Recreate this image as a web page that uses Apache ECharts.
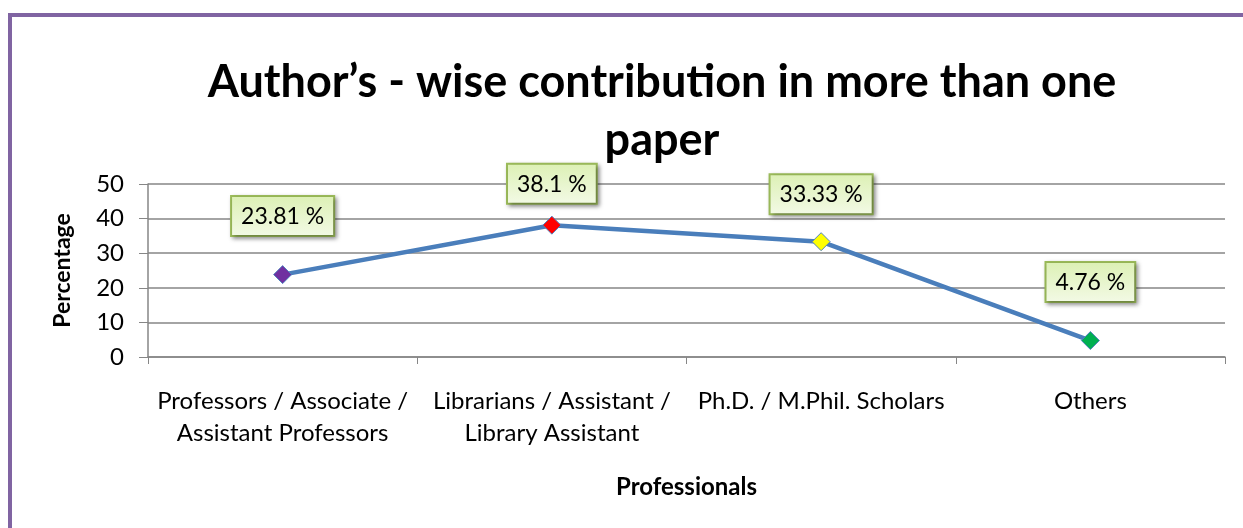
<!DOCTYPE html>
<html>
<head>
<meta charset="utf-8">
<script src="https://cdn.jsdelivr.net/npm/echarts@6/dist/echarts.min.js"></script>
<style>
  html, body { margin: 0; padding: 0; background: #fff; }
  #frame { position: absolute; left: 8px; top: 13px; width: 1235px; height: 515px;
           border-top: 4px solid #8064A2; border-left: 4px solid #8064A2; }
  #container { position: absolute; left: 0; top: 0; width: 1243px; height: 528px; }
</style>
</head>
<body>
<div id="frame"></div>
<div id="container"></div>
<script>
var categories = ['Professors / Associate /\nAssistant Professors', 'Librarians / Assistant /\nLibrary Assistant', 'Ph.D. / M.Phil. Scholars', 'Others'];
var values = [23.81, 38.1, 33.33, 4.76];
var markerColors = ['#7030A0', '#FF0000', '#FFFF00', '#00B050'];
var labelGaps = [30, 13, 19, 30];
var yTicks = [0, 10, 20, 30, 40, 50];

var font = 'Lato, "Open Sans", sans-serif';

var dom = document.getElementById('container');
var myChart = echarts.init(dom);

var pts = values.map(function (v, i) {
    return {
        value: v,
        itemStyle: { color: markerColors[i], borderColor: '#4F81BD', borderWidth: 1 },
        label: { distance: labelGaps[i] }
    };
});

var option = {
    animation: false,
    title: {
        text: 'Author\u2019s - wise contribution in more than one\npaper',
        left: 657,
        textAlign: 'center',
        top: 48,
        textStyle: { fontFamily: font, fontSize: 45, fontWeight: 'bold', color: '#000', lineHeight: 58 }
    },
    grid: { left: 148, right: 18, top: 184, bottom: 171, containLabel: false },
    xAxis: {
        type: 'category',
        data: categories,
        boundaryGap: true,
        name: 'Professionals',
        nameLocation: 'middle',
        nameGap: 118,
        nameTextStyle: { fontFamily: font, fontSize: 24, fontWeight: 'bold', color: '#000' },
        axisLine: { lineStyle: { color: '#868686', width: 1.5 } },
        axisTick: { show: true, interval: 0, length: 7, lineStyle: { color: '#868686' } },
        axisLabel: { interval: 0, fontFamily: font, fontSize: 24, color: '#000', margin: 28, lineHeight: 32 }
    },
    yAxis: {
        type: 'value',
        min: 0, max: 50, interval: 10,
        name: 'Percentage',
        nameLocation: 'middle',
        nameGap: 74,
        nameTextStyle: { fontFamily: font, fontSize: 23, fontWeight: 'bold', color: '#000' },
        axisLine: { show: true, lineStyle: { color: '#868686', width: 1.5 } },
        axisTick: { show: true, length: 9, lineStyle: { color: '#868686' } },
        axisLabel: { fontFamily: font, fontSize: 24, color: '#000', margin: 24,
            formatter: function (v) { return yTicks.indexOf(v) >= 0 ? String(v) : ''; } },
        splitLine: { lineStyle: { color: '#868686', width: 1.5 } }
    },
    series: [{
        type: 'line',
        data: pts,
        symbol: 'diamond',
        symbolSize: 18,
        lineStyle: { color: '#4A7EBB', width: 4.5 },
        label: {
            show: true,
            position: 'top',
            formatter: function (p) { return p.value + ' %'; },
            fontFamily: font,
            fontSize: 23,
            color: '#000',
            padding: [8, 9, 7, 9],
            borderColor: '#9BBB59',
            borderWidth: 2,
            backgroundColor: new echarts.graphic.LinearGradient(0, 0, 0, 1, [
                { offset: 0, color: '#DCF0B4' },
                { offset: 1, color: '#F3FAE6' }
            ]),
            shadowColor: 'rgba(0,0,0,0.35)',
            shadowBlur: 4,
            shadowOffsetX: 2,
            shadowOffsetY: 2
        }
    }]
};

myChart.setOption(option, true);
window.onresize = function () { myChart.resize(); };
</script>
</body>
</html>
